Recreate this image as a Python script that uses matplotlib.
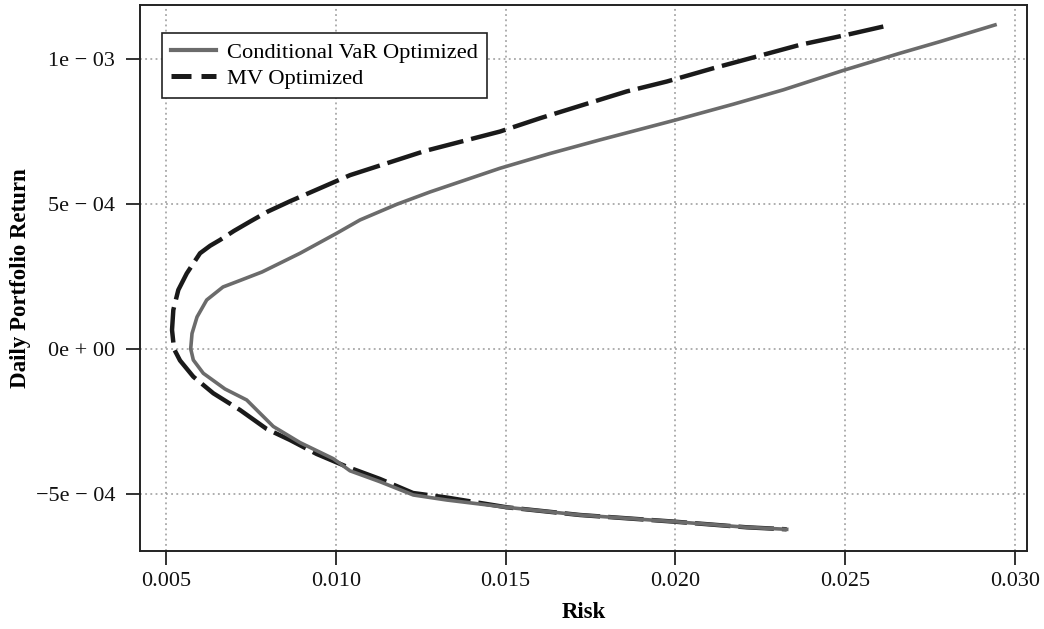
import matplotlib.pyplot as plt
from matplotlib.lines import Line2D

plt.rcParams['font.family'] = ['Liberation Serif', 'DejaVu Serif']

# efficient frontiers (risk, daily return)
cvar_risk = [0.023277, 0.022099, 0.019988, 0.017191, 0.015032, 0.013266, 0.012282,
             0.011301, 0.010418, 0.009926, 0.008946, 0.008160, 0.007671, 0.007376,
             0.006737, 0.006098, 0.005804, 0.005727, 0.005766, 0.005913, 0.006198,
             0.006678, 0.007179, 0.007827, 0.008946, 0.010026, 0.010713, 0.011800,
             0.012774, 0.014835, 0.016307, 0.017780, 0.019988, 0.021705, 0.023177,
             0.024994, 0.026613, 0.027791, 0.029411]
cvar_return = [-6.207e-4, -6.138e-4, -5.945e-4, -5.714e-4, -5.448e-4, -5.197e-4, -5.024e-4,
               -4.566e-4, -4.190e-4, -3.772e-4, -3.217e-4, -2.662e-4, -2.093e-4, -1.748e-4,
               -1.369e-4, -0.828e-4, -0.369e-4, 0.017e-4, 0.545e-4, 1.114e-4, 1.700e-4,
               2.148e-4, 2.372e-4, 2.665e-4, 3.310e-4, 4.000e-4, 4.459e-4, 5.000e-4,
               5.424e-4, 6.241e-4, 6.750e-4, 7.220e-4, 7.900e-4, 8.450e-4, 8.945e-4,
               9.634e-4, 10.207e-4, 10.607e-4, 11.183e-4]

mv_risk = [0.026122, 0.025044, 0.023669, 0.022394, 0.021116, 0.019744, 0.018566,
           0.017288, 0.016013, 0.014835, 0.012627, 0.010418, 0.008651, 0.008000,
           0.007500, 0.007000, 0.006590, 0.006300, 0.006001, 0.005610, 0.005362,
           0.005215, 0.005177, 0.005236, 0.005412, 0.005804, 0.006393, 0.007179,
           0.007965, 0.008651, 0.009437, 0.010321, 0.011301, 0.012273, 0.013266,
           0.015032, 0.017191, 0.019988, 0.022099, 0.023277]
mv_return = [11.128e-4, 10.841e-4, 10.497e-4, 10.093e-4, 9.690e-4, 9.231e-4, 8.890e-4,
             8.428e-4, 7.966e-4, 7.507e-4, 6.838e-4, 6.003e-4, 5.103e-4, 4.750e-4,
             4.420e-4, 4.080e-4, 3.769e-4, 3.570e-4, 3.310e-4, 2.614e-4, 2.045e-4,
             1.355e-4, 0.666e-4, 0.010e-4, -0.386e-4, -0.945e-4, -1.517e-4, -2.093e-4,
             -2.748e-4, -3.128e-4, -3.610e-4, -4.048e-4, -4.472e-4, -4.955e-4, -5.111e-4,
             -5.448e-4, -5.714e-4, -5.945e-4, -6.138e-4, -6.207e-4]

x_ticks = [0.005, 0.010, 0.015, 0.020, 0.025, 0.030]
x_labels = ['0.005', '0.010', '0.015', '0.020', '0.025', '0.030']
y_ticks = [-5e-4, 0.0, 5e-4, 1e-3]
y_labels = ['\u22125e \u2212 04', '0e + 00', '5e \u2212 04', '1e \u2212 03']

fig = plt.figure(figsize=(10.44, 6.29), dpi=100)
ax = fig.add_axes([140 / 1044, 1 - 551 / 629, 887 / 1044, 546 / 629])

# MV underneath, CVaR on top (they overlap on the lower tail)
ax.plot(mv_risk, mv_return, color='#1a1a1a', linewidth=3.2,
        linestyle=(0, (8, 1.8)), zorder=3)
ax.plot(cvar_risk, cvar_return, color='#6b6b6b', linewidth=2.6, zorder=4)

ax.set_xlim(0.004234, 0.030353)
ax.set_ylim(-6.955e-4, 1.187e-3)
ax.set_xticks(x_ticks)
ax.set_xticklabels(x_labels)
ax.set_yticks(y_ticks)
ax.set_yticklabels(y_labels)

ax.grid(True, color='#999999', linestyle=(0, (1.2, 2.2)), linewidth=1.1)
ax.set_axisbelow(True)

for s in ax.spines.values():
    s.set_color('#222222')
    s.set_linewidth(1.4)

ax.tick_params(axis='both', direction='out', length=10, width=1.3,
               color='#222222', labelsize=16, labelcolor='#111111')
ax.tick_params(axis='x', pad=5)
ax.tick_params(axis='y', pad=8)

ax.set_xlabel('Risk', fontsize=16.5, fontweight='bold', labelpad=8)
ax.set_ylabel('Daily Portfolio Return', fontsize=16.5, fontweight='bold', labelpad=3)

handles = [Line2D([], [], color='#6b6b6b', linewidth=3.0),
           Line2D([], [], color='#1a1a1a', linewidth=3.6, linestyle=(0, (4, 2)))]
leg = ax.legend(handles, ['Conditional VaR Optimized', 'MV Optimized'],
                loc='upper left', bbox_to_anchor=(0.0248, 0.9487), borderaxespad=0,
                fontsize=16.2, fancybox=False, framealpha=1, edgecolor='#222222',
                handlelength=2.0, handletextpad=0.5, labelspacing=0.25, borderpad=0.4)
leg.get_frame().set_linewidth(1.2)

fig.savefig('out.png', dpi=100)
